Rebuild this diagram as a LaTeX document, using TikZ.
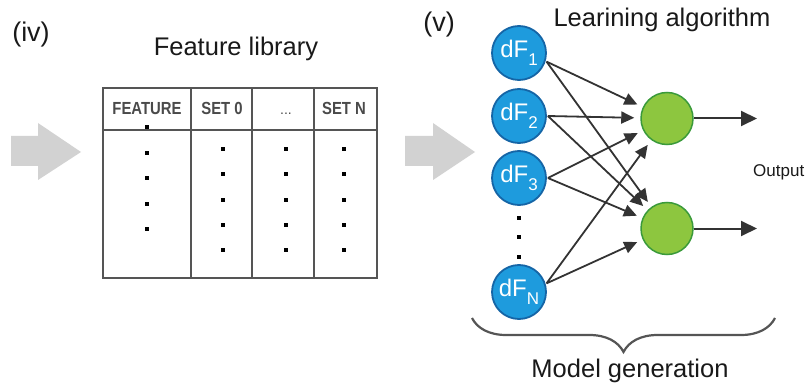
\documentclass[tikz,border=0pt]{standalone}
\usepackage{fontspec}
\setmainfont{Liberation Sans}
\newfontfamily\condfont[FakeStretch=0.85]{Liberation Sans}
\usetikzlibrary{arrows.meta,decorations.pathreplacing}
\definecolor{bluefill}{HTML}{1E9BDD}
\definecolor{blueedge}{HTML}{1565A6}
\definecolor{greenfill}{HTML}{8DC63F}
\definecolor{greenedge}{HTML}{3A9A3A}
\definecolor{arrowgray}{HTML}{D2D2D2}
\definecolor{linegray}{HTML}{555555}
\definecolor{headgray}{HTML}{4A4A4A}
\definecolor{conn}{HTML}{333333}
\newcommand\lowsub[1]{\raisebox{-0.32em}{\fontsize{17}{17}\selectfont #1}}
\begin{document}
\begin{tikzpicture}[x=1pt,y=-1pt,
  title/.style={font=\fontsize{25.5}{28}\selectfont, text=black!90, inner sep=0pt},
  hdr/.style={font=\condfont\bfseries\fontsize{17.5}{20}\selectfont, text=headgray, inner sep=0pt},
  dotsq/.style={rectangle, fill=black, minimum size=3.2pt, inner sep=0pt, draw=none},
  inode/.style={circle, fill=bluefill, draw=blueedge, line width=1.8pt, minimum size=54pt, inner sep=0pt, text=white, font=\fontsize{24}{26}\selectfont},
  onode/.style={circle, fill=greenfill, draw=greenedge, line width=1.5pt, minimum size=52pt, inner sep=0pt},
  link/.style={draw=conn, line width=1.8pt, -{Triangle[length=13pt,width=12pt]}, shorten >=6pt},
  outlink/.style={draw=conn, line width=2pt, -{Triangle[length=16pt,width=15pt]}},
  bigarrow/.style={fill=arrowgray},
  tbl/.style={draw=linegray, line width=2pt}
]
\useasboundingbox (0,0) rectangle (809,385);

% panel labels
\node[title, font=\fontsize{27}{30}\selectfont, anchor=base] (lab4) at (31,42) {(iv)};
\node[title, font=\fontsize{27}{30}\selectfont, anchor=base] (lab5) at (439,32) {(v)};

% big gray arrows
\fill[bigarrow] (11,136) -- (38,136) -- (38,123) -- (81,152) -- (38,180) -- (38,166) -- (11,166) -- cycle;
\fill[bigarrow] (405,136) -- (433,136) -- (433,123) -- (475,152) -- (433,180) -- (433,166) -- (405,166) -- cycle;

% feature library
\node[title, anchor=base] (flib) at (236,56) {Feature library};
\draw[tbl] (103,88) rectangle (377,278);
\draw[tbl] (103,130) -- (377,130);
\draw[tbl] (191,88) -- (191,278);
\draw[tbl] (252,88) -- (252,278);
\draw[tbl] (314,88) -- (314,278);
\node[hdr, anchor=base] (hfeat) at (147,115) {FEATURE};
\node[hdr, anchor=base] (hset0) at (222,115) {SET 0};
\node[hdr, anchor=base, font=\fontsize{14}{16}\selectfont] (hdots) at (286,115) {...};
\node[hdr, anchor=base] (hsetn) at (344,115) {SET N};
\foreach \y [count=\i] in {127,153,178,204,229} {
  \node[dotsq] (fd\i) at (147,\y) {};
}
\foreach \x [count=\j] in {223,286,344} {
  \foreach \y [count=\i] in {149,174,200,225,250} {
    \node[dotsq] (sd\j\i) at (\x,\y) {};
  }
}

% network
\node[title, anchor=base] (lalg) at (662,27) {Learining algorithm};
\node[inode] (dF1) at (519,53) {dF\lowsub{1}};
\node[inode] (dF2) at (519,116) {dF\lowsub{2}};
\node[inode] (dF3) at (519,178) {dF\lowsub{3}};
\node[inode] (dFN) at (519,292) {dF\lowsub{N}};
\node[dotsq] (vd1) at (519,218) {};
\node[dotsq] (vd2) at (519,237) {};
\node[dotsq] (vd3) at (519,257) {};
\node[onode] (g1) at (667,118.5) {};
\node[onode] (g2) at (667,228.5) {};

\coordinate (s1) at ([shift={(1pt,0)}]dF1.-18);
\coordinate (s2) at ([shift={(1pt,0)}]dF2.east);
\coordinate (s3) at ([shift={(1pt,0)}]dF3.east);
\coordinate (sN) at ([shift={(1pt,0)}]dFN.18);
\foreach \s in {s1,s2,s3,sN} {
  \draw[link] (\s) -- (g1);
  \draw[link] (\s) -- (g2);
}

\coordinate (o1) at (757,118.5);
\coordinate (o2) at (757,228.5);
\draw[outlink] (g1.east) -- (o1);
\draw[outlink] (g2.east) -- (o2);
\node[font=\fontsize{17}{20}\selectfont, text=black!90, anchor=base west, inner sep=0pt] (out) at (753,177) {Output};

% brace
\coordinate (bl) at (472,318);
\coordinate (br) at (775,318);
\draw[draw=linegray, line width=2.2pt, decorate, decoration={brace, amplitude=34pt, mirror}] (bl) -- (br);
\node[title, anchor=base] (mgen) at (630,377) {Model generation};
\end{tikzpicture}
\end{document}
